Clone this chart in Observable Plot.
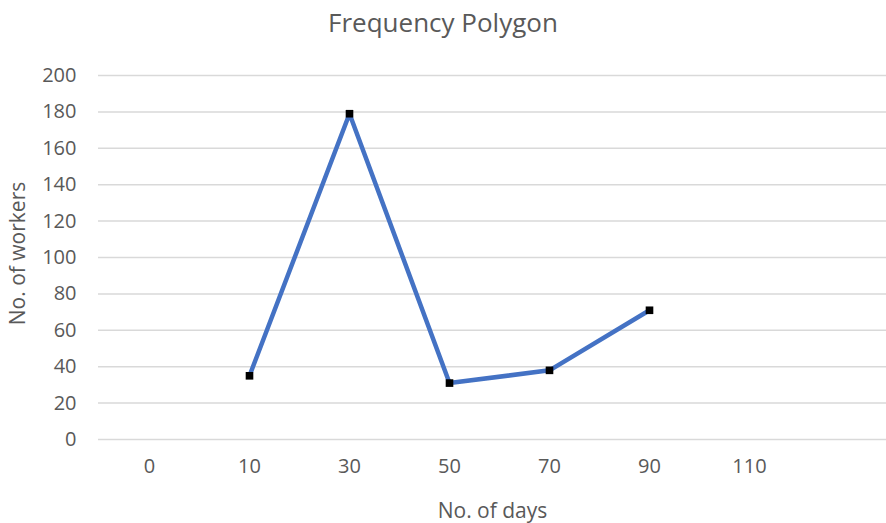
<!DOCTYPE html>
<html>
<head>
<meta charset="utf-8">
<script src="https://cdn.jsdelivr.net/npm/d3@7"></script>
<script src="https://cdn.jsdelivr.net/npm/@observablehq/plot@0.6"></script>
<style>
  html, body { margin: 0; padding: 0; background: #fff; }
  #title {
    width: 886px; height: 46px; line-height: 44px; text-align: center;
    font-family: "Open Sans", sans-serif; font-size: 26px; color: #595959;
  }
</style>
</head>
<body>
<div id="title">Frequency Polygon</div>
<div id="chart"></div>
<script>
// Class marks (days) and number of workers in each class
const days = ["0", "10", "30", "50", "70", "90", "110"];
const workers = [null, 35, 179, 31, 38, 71, null];
const yTicks = [0, 20, 40, 60, 80, 100, 120, 140, 160, 180, 200];

const points = days
  .map((day, i) => ({day, n: workers[i]}))
  .filter(d => d.n != null);

const chart = Plot.plot({
  width: 886,
  height: 477,
  marginTop: 29,
  marginBottom: 84,
  marginLeft: 98,
  marginRight: 0,
  style: {fontFamily: "Open Sans, sans-serif", fontSize: "20px", color: "#595959", background: "white"},
  x: {type: "point", domain: days, range: [148, 749], padding: 0},
  y: {domain: [0, 200]},
  marks: [
    Plot.ruleY(yTicks, {stroke: "#d9d9d9", strokeWidth: 1.5}),
    Plot.axisY({ticks: yTicks, tickSize: 0, tickPadding: 22, label: null, fill: "#595959"}),
    Plot.axisX({tickSize: 0, tickPadding: 19, label: null, fill: "#595959"}),
    Plot.line(points, {x: "day", y: "n", stroke: "#4472C4", strokeWidth: 4.5}),
    Plot.dot(points, {x: "day", y: "n", symbol: "square", fill: "black", r: 4.3}),
    Plot.text(["No. of days"], {frameAnchor: "bottom", dy: 78, fontSize: 21, fill: "#595959"}),
    Plot.text(["No. of workers"], {frameAnchor: "left", textAnchor: "middle", dx: -80, dy: -4, rotate: -90, fontSize: 21, fill: "#595959"})
  ]
});

document.getElementById("chart").appendChild(chart);
</script>
</body>
</html>
